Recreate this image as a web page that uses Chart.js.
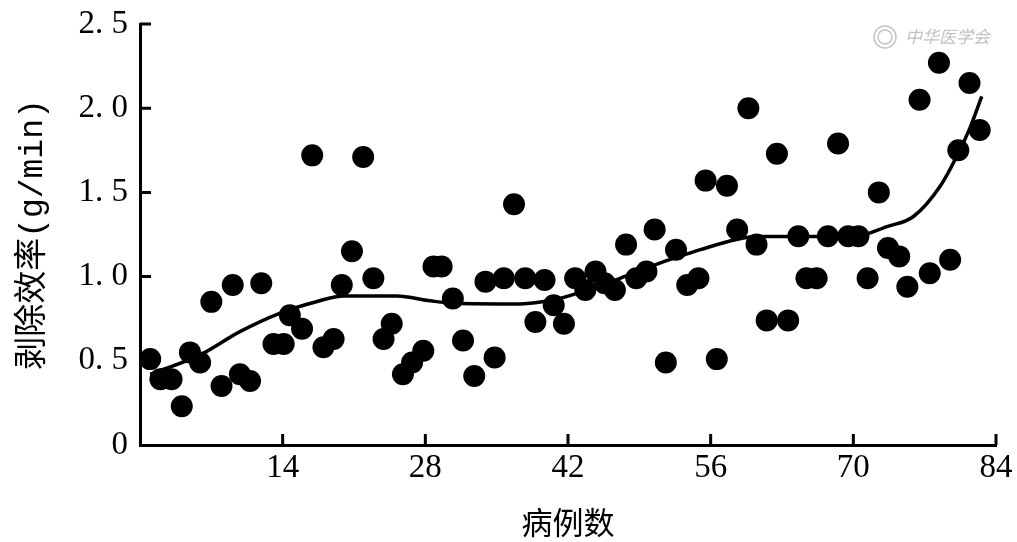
<!DOCTYPE html>
<html>
<head>
<meta charset="utf-8">
<script src="https://cdn.jsdelivr.net/npm/chart.js@4/dist/chart.umd.min.js"></script>
<style>
  html, body { margin: 0; padding: 0; background: #fff; }
  #c { display: block; }
</style>
</head>
<body>
<canvas id="c" width="1017" height="542"></canvas>
<script>
// ---- data ----
const caseNo = [
  1.0, 2.0, 3.1, 4.1, 4.9, 5.9, 7.0, 8.0, 9.1, 9.8,
  10.8, 11.9, 13.1, 14.1, 14.7, 15.9, 16.9, 18.0, 19.0, 19.8,
  20.8, 21.9, 22.9, 23.9, 24.7, 25.8, 26.7, 27.8, 28.8, 29.6,
  30.7, 31.7, 32.8, 33.9, 34.8, 35.7, 36.7, 37.8, 38.8, 39.7,
  40.6, 41.6, 42.7, 43.7, 44.7, 45.6, 46.6, 47.7, 48.7, 49.7,
  50.5, 51.6, 52.6, 53.7, 54.8, 55.5, 56.6, 57.6, 58.6, 59.7,
  60.5, 61.5, 62.5, 63.6, 64.6, 65.4, 66.4, 67.5, 68.5, 69.5,
  70.5, 71.4, 72.5, 73.4, 74.5, 75.3, 76.5, 77.5, 78.4, 79.5,
  80.3, 81.4, 82.4
];
const removalRate = [
  0.51, 0.39, 0.39, 0.23, 0.55, 0.49, 0.85, 0.35, 0.95, 0.42,
  0.38, 0.96, 0.60, 0.60, 0.77, 0.69, 1.72, 0.58, 0.63, 0.95,
  1.15, 1.71, 0.99, 0.63, 0.72, 0.42, 0.49, 0.56, 1.06, 1.06,
  0.87, 0.62, 0.41, 0.97, 0.52, 0.99, 1.43, 0.99, 0.73, 0.98,
  0.83, 0.72, 0.99, 0.92, 1.03, 0.96, 0.92, 1.19, 0.99, 1.03,
  1.28, 0.49, 1.16, 0.95, 0.99, 1.57, 0.51, 1.54, 1.28, 2.00,
  1.19, 0.74, 1.73, 0.74, 1.24, 0.99, 0.99, 1.24, 1.79, 1.24,
  1.24, 0.99, 1.50, 1.17, 1.12, 0.94, 2.05, 1.02, 2.27, 1.10,
  1.75, 2.15, 1.87
];
const trendX = [1.0, 5.9, 9.8, 13.7, 17.3, 20.0, 25.2, 28.5, 30.8, 37.3, 40.6, 42.9, 47.1, 51.0, 53.7, 55.0, 58.5, 60.5, 70.0, 73.3, 75.9, 78.5, 80.3, 81.5, 82.6];
const trendY = [0.42, 0.535, 0.673, 0.782, 0.851, 0.885, 0.885, 0.856, 0.842, 0.838, 0.862, 0.901, 0.99, 1.08, 1.135, 1.16, 1.22, 1.238, 1.238, 1.297, 1.357, 1.535, 1.733, 1.891, 2.07];
const yTickValues = [0, 0.5, 1.0, 1.5, 2.0, 2.5];
const yTickLabels = ['0', '0. 5', '1. 0', '1. 5', '2. 0', '2. 5'];
const xTickValues = [14, 28, 42, 56, 70, 84];
const xTitle = '病例数';
const yTitle = '剥除效率(g/min)';
const watermarkText = '中华医学会';

const scatterPoints = caseNo.map((x, i) => ({ x: x, y: removalRate[i] }));
const trendPoints = trendX.map((x, i) => ({ x: x, y: trendY[i] }));

const inwardTicks = {
  id: 'inwardTicks',
  beforeDatasetsDraw(chart) {
    const ctx = chart.ctx;
    const area = chart.chartArea;
    const xs = chart.scales.x, ys = chart.scales.y;
    ctx.save();
    ctx.strokeStyle = '#000';
    ctx.lineWidth = 3;
    ctx.lineCap = 'butt';
    ctx.beginPath();
    yTickValues.forEach(v => {
      if (v === 0) return;
      const py = ys.getPixelForValue(v);
      ctx.moveTo(area.left, py);
      ctx.lineTo(area.left + 11, py);
    });
    xTickValues.forEach(v => {
      const px = xs.getPixelForValue(v);
      ctx.moveTo(px, area.bottom);
      ctx.lineTo(px, area.bottom - 11);
    });
    ctx.stroke();
    ctx.restore();
  },
  afterDraw(chart) {
    const ctx = chart.ctx;
    ctx.save();
    ctx.strokeStyle = '#c4c4c4';
    ctx.lineWidth = 1.5;
    ctx.beginPath();
    ctx.arc(885, 37, 11, 0, Math.PI * 2);
    ctx.stroke();
    ctx.beginPath();
    ctx.arc(885, 37, 7, 0, Math.PI * 2);
    ctx.stroke();
    ctx.fillStyle = '#c0c0c0';
    ctx.font = 'italic 17px "Noto Sans CJK SC"';
    ctx.textBaseline = 'middle';
    ctx.textAlign = 'left';
    ctx.fillText(watermarkText, 905, 37);
    ctx.restore();
  }
};

new Chart(document.getElementById('c'), {
  data: {
    datasets: [
      {
        type: 'scatter',
        data: scatterPoints,
        backgroundColor: '#000',
        borderWidth: 0,
        pointRadius: 11,
        pointHoverRadius: 11,
        clip: false,
        order: 0
      },
      {
        type: 'line',
        data: trendPoints,
        borderColor: '#000',
        borderWidth: 3.5,
        pointRadius: 0,
        fill: false,
        cubicInterpolationMode: 'monotone',
        clip: false,
        order: 1
      }
    ]
  },
  plugins: [inwardTicks],
  options: {
    responsive: false,
    devicePixelRatio: 1,
    animation: false,
    events: [],
    layout: { padding: { top: 24, right: 21, left: 0, bottom: 0 } },
    plugins: { legend: { display: false }, tooltip: { enabled: false } },
    scales: {
      x: {
        type: 'linear',
        min: 0, max: 84,
        afterFit(scale) { scale.height = 97; scale.paddingLeft = 0; scale.paddingRight = 0; },
        afterBuildTicks(scale) { scale.ticks = xTickValues.map(v => ({ value: v })); },
        grid: { display: false, drawTicks: false },
        border: { display: true, color: '#000', width: 3 },
        ticks: {
          autoSkip: false,
          maxRotation: 0,
          padding: 4,
          color: '#000',
          font: { family: '"Liberation Serif"', size: 33 },
          callback: (v) => String(v)
        },
        title: {
          display: true,
          text: xTitle,
          color: '#000',
          font: { family: '"Noto Sans CJK SC"', size: 31 },
          padding: { top: 0, bottom: 1 }
        }
      },
      y: {
        type: 'linear',
        min: 0, max: 2.5,
        afterFit(scale) { scale.width = 140; scale.paddingTop = 0; scale.paddingBottom = 0; },
        afterBuildTicks(scale) { scale.ticks = yTickValues.map(v => ({ value: v })); },
        grid: { display: false, drawTicks: false },
        border: { display: true, color: '#000', width: 3 },
        ticks: {
          autoSkip: false,
          padding: 12,
          color: '#000',
          font: { family: '"Liberation Serif"', size: 33 },
          callback: (v) => yTickLabels[yTickValues.indexOf(v)]
        },
        title: {
          display: true,
          text: yTitle,
          color: '#000',
          font: { family: '"Liberation Mono", "Noto Sans CJK SC"', size: 33 },
          padding: { top: 13, bottom: 0 }
        }
      }
    }
  }
});
</script>
</body>
</html>
